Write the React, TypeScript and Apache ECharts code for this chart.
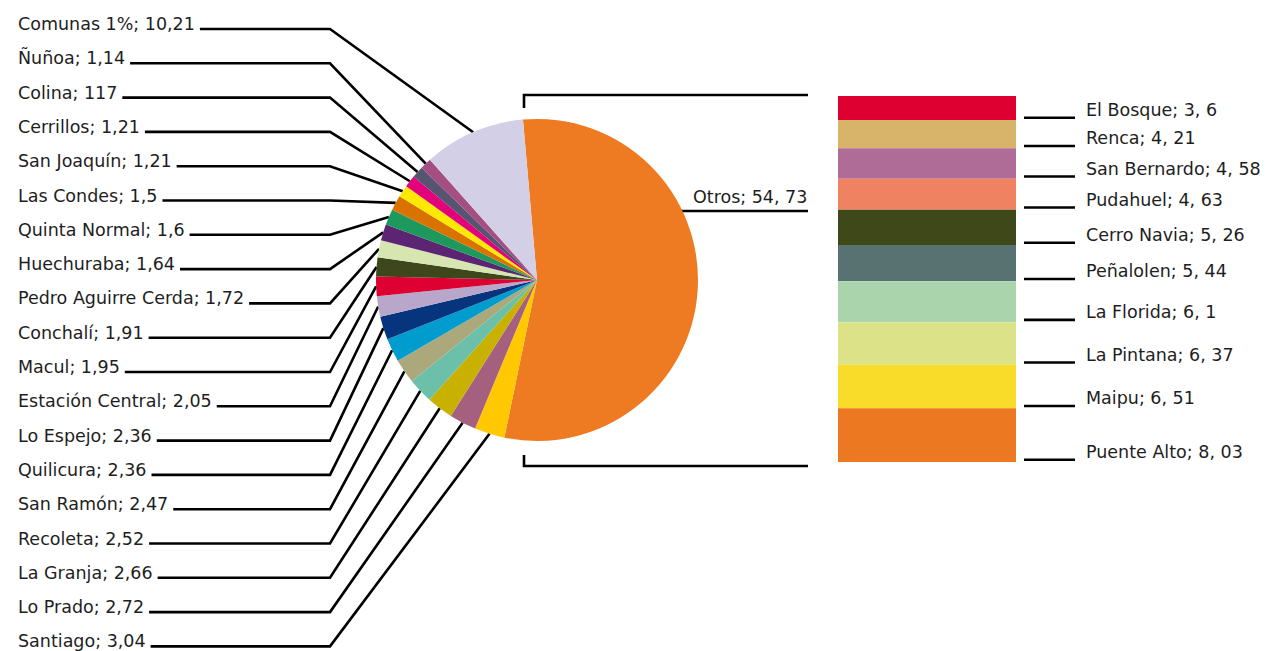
import React, { useEffect, useRef } from 'react';
import * as echarts from 'echarts';

const pieNames = ['Otros', 'Santiago', 'Lo Prado', 'La Granja', 'Recoleta', 'San Ramón', 'Quilicura', 'Lo Espejo', 'Estación Central', 'Macul', 'Conchalí', 'Pedro Aguirre Cerda', 'Huechuraba', 'Quinta Normal', 'Las Condes', 'San Joaquín', 'Cerrillos', 'Colina', 'Ñuñoa', 'Comunas 1%'];
const pieValues = [54.73, 3.04, 2.72, 2.66, 2.52, 2.47, 2.36, 2.36, 2.05, 1.95, 1.91, 1.72, 1.64, 1.6, 1.5, 1.21, 1.21, 1.17, 1.14, 10.21];
const pieLabels = ['Otros; 54, 73', 'Santiago; 3,04', 'Lo Prado; 2,72', 'La Granja; 2,66', 'Recoleta; 2,52', 'San Ramón; 2,47', 'Quilicura; 2,36', 'Lo Espejo; 2,36', 'Estación Central; 2,05', 'Macul; 1,95', 'Conchalí; 1,91', 'Pedro Aguirre Cerda; 1,72', 'Huechuraba; 1,64', 'Quinta Normal; 1,6', 'Las Condes; 1,5', 'San Joaquín; 1,21', 'Cerrillos; 1,21', 'Colina; 117', 'Ñuñoa; 1,14', 'Comunas 1%; 10,21'];
const pieColors = ['#EE7B22', '#FFC800', '#A5607F', '#C8B100', '#6CBFA9', '#ABA97B', '#009CCD', '#06357E', '#B9A6CB', '#DD0031', '#3E461C', '#D7E6B1', '#5B2573', '#1E995E', '#DA7200', '#FFE900', '#E3007B', '#565471', '#A44E82', '#D3CFE6'];

const barNames = ['El Bosque', 'Renca', 'San Bernardo', 'Pudahuel', 'Cerro Navia', 'Peñalolen', 'La Florida', 'La Pintana', 'Maipu', 'Puente Alto'];
const barValues = [3.6, 4.21, 4.58, 4.63, 5.26, 5.44, 6.1, 6.37, 6.51, 8.03];
const barLabels = ['El Bosque; 3, 6', 'Renca; 4, 21', 'San Bernardo; 4, 58', 'Pudahuel; 4, 63', 'Cerro Navia; 5, 26', 'Peñalolen; 5, 44', 'La Florida; 6, 1', 'La Pintana; 6, 37', 'Maipu; 6, 51', 'Puente Alto; 8, 03'];
const barColors = ['#DE0030', '#D8B36A', '#AE6C96', '#EE8261', '#3E4819', '#587272', '#AAD4AC', '#DCE287', '#F9DB2A', '#EC7921'];

const FONT = 'DejaVu Sans';
const FS = 17.5;
const CX = 537;
const CY = 280;
const R = 161;
const LW = 2.6;

export default function App() {
  const ref = useRef<HTMLDivElement>(null);
  useEffect(() => {
    if (!ref.current) return;
    const chart = echarts.init(ref.current, undefined, { renderer: 'svg' });
    const barTotal = barValues.reduce((a, b) => a + b, 0);
    const option: any = {
      animation: false,
      backgroundColor: '#ffffff',
      grid: { left: 838, top: 96, width: 178, height: 366 },
      xAxis: { type: 'category', data: ['Otros'], show: false },
      yAxis: { type: 'value', min: 0, max: barTotal, inverse: true, show: false },
      graphic: [
        { type: 'polyline', shape: { points: [[524, 108], [524, 95], [808, 95]] }, style: { stroke: '#000', lineWidth: LW, fill: null } },
        { type: 'polyline', shape: { points: [[524, 455], [524, 466], [808, 466]] }, style: { stroke: '#000', lineWidth: LW, fill: null } },
      ],
      series: [
        {
          type: 'pie',
          center: [CX, CY],
          radius: R,
          startAngle: 95,
          clockwise: true,
          avoidLabelOverlap: false,
          data: pieNames.map((n, i) => ({ name: n, value: pieValues[i], itemStyle: { color: pieColors[i] } })),
          label: {
            show: true,
            position: 'outside',
            formatter: (p: any) => pieLabels[p.dataIndex],
            fontFamily: FONT,
            fontSize: FS,
            color: '#1e1e1e',
          },
          labelLine: { show: true, length: 10, length2: 10, lineStyle: { color: '#000', width: LW } },
          labelLayout: (p: any) => {
            const i = p.dataIndex;
            if (i === 0) {
              const ly = 211;
              const ex = CX + Math.sqrt(R * R - (CY - ly) * (CY - ly));
              return {
                x: 693, y: 197, align: 'left', verticalAlign: 'middle',
                labelLinePoints: [[ex - 2, ly], [760, ly], [808, ly]],
              };
            }
            const row = pieNames.length - 1 - i;
            const y = 24 + row * 34.3;
            const ly = y + 5;
            const tx = 18 + p.labelRect.width + 5;
            const start = p.labelLinePoints ? p.labelLinePoints[0] : [CX, CY];
            return {
              x: 18, y, align: 'left', verticalAlign: 'middle',
              labelLinePoints: [start, [330, ly], [tx, ly]],
            };
          },
        },
        ...barNames.map((n, i) => ({
          type: 'bar',
          name: n,
          stack: 'otros',
          barWidth: '100%',
          data: [barValues[i]],
          itemStyle: { color: barColors[i] },
          label: {
            show: true,
            position: ['100%', '100%'],
            align: 'left',
            verticalAlign: 'bottom',
            offset: [8, -1],
            formatter: () => '{ln|}{t|' + barLabels[i] + '}',
            rich: {
              ln: { width: 51, height: LW, backgroundColor: '#000', verticalAlign: 'bottom' },
              t: { fontFamily: FONT, fontSize: FS, color: '#1e1e1e', lineHeight: 8, verticalAlign: 'bottom', padding: [0, 0, 0, 11] },
            },
          },
        })),
      ],
    };
    chart.setOption(option);
    return () => chart.dispose();
  }, []);
  return <div ref={ref} style={{ position: 'fixed', left: 0, top: 0, width: 1278, height: 651 }} />;
}
